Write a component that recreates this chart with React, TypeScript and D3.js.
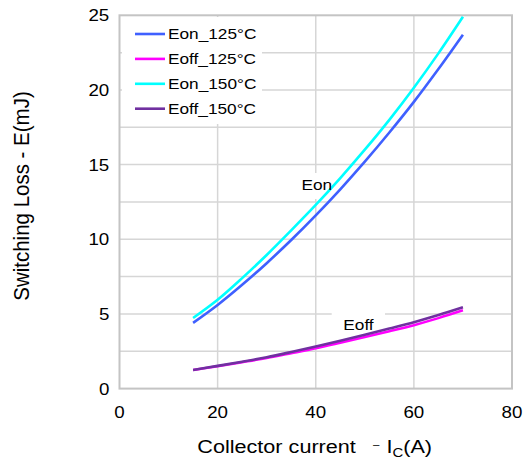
import React from "react";
import * as d3 from "d3";

const currents = [15, 20, 25, 30, 35, 40, 45, 50, 55, 60, 65, 70];
const eon125 = [4.4, 5.6, 6.95, 8.4, 9.95, 11.6, 13.35, 15.2, 17.15, 19.2, 21.4, 23.7];
const eoff125 = [1.25, 1.5, 1.77, 2.05, 2.37, 2.7, 3.07, 3.45, 3.84, 4.25, 4.72, 5.24];
const eon150 = [4.73, 5.95, 7.4, 8.95, 10.6, 12.3, 14.1, 16.0, 18.0, 20.15, 22.45, 24.9];
const eoff150 = [1.25, 1.52, 1.8, 2.1, 2.45, 2.82, 3.2, 3.6, 4.02, 4.45, 4.93, 5.45];

const seriesNames = ["Eon_125°C", "Eoff_125°C", "Eon_150°C", "Eoff_150°C"];
const seriesValues = [eon125, eoff125, eon150, eoff150];
const seriesColors = ["#3f60ff", "#ff00ff", "#00ffff", "#7030a0"];

const xTicks = [0, 20, 40, 60, 80];
const yTicks = [0, 5, 10, 15, 20, 25];
const yGrid = [2.5, 5, 7.5, 10, 12.5, 15, 17.5, 20, 22.5];
const xGrid = [20, 40, 60];

const W = 528;
const H = 461;
const SX = 1.15;
const FONT = "Liberation Sans, Arial, sans-serif";

function T({ x, y, size, anchor = "start", children }: any) {
  return (
    <text
      transform={`translate(${x},${y}) scale(${SX},1)`}
      fontSize={size}
      fontFamily={FONT}
      textAnchor={anchor}
      fill="#000"
    >
      {children}
    </text>
  );
}

export default function App() {
  const x = d3.scaleLinear().domain([0, 80]).range([119.5, 512]);
  const y = d3.scaleLinear().domain([0, 25]).range([388.6, 15.3]);
  const line = d3
    .line<number>()
    .x((_, i) => x(currents[i]))
    .y((v) => y(v))
    .curve(d3.curveCatmullRom);

  return (
    <svg
      width={W}
      height={H}
      style={{ position: "absolute", left: 0, top: 0, background: "#fff" }}
    >
      <rect x={0} y={0} width={W} height={H} fill="#fff" />
      {/* grid */}
      {yGrid.map((v) => (
        <line key={"gy" + v} x1={x(0)} x2={x(80)} y1={y(v)} y2={y(v)} stroke="#d6d6d6" strokeWidth={1.5} />
      ))}
      {xGrid.map((v) => (
        <line key={"gx" + v} x1={x(v)} x2={x(v)} y1={y(0)} y2={y(25)} stroke="#d6d6d6" strokeWidth={1.5} />
      ))}
      <rect x={x(0)} y={y(25)} width={x(80) - x(0)} height={y(0) - y(25)} fill="none" stroke="#c4c4c4" strokeWidth={2} />

      {/* legend background */}
      <rect x={122} y={17} width={140} height={107} fill="#fff" />
      {/* label backgrounds */}
      <rect x={298} y={173} width={38} height={26} fill="#fff" />
      <rect x={331.7} y={311} width={53.3} height={20} fill="#fff" />

      {/* series lines */}
      {seriesValues.map((vals, i) => (
        <path key={seriesNames[i]} d={line(vals) || ""} fill="none" stroke={seriesColors[i]} strokeWidth={2.6} />
      ))}

      {/* labels */}
      <T x={301.5} y={190.3} size={15}>Eon</T>
      <T x={343.3} y={330} size={15}>Eoff</T>

      {/* legend */}
      {seriesNames.map((n, i) => {
        const cy = 34 + i * 24.9;
        return (
          <g key={"lg" + n}>
            <line x1={135} x2={165} y1={cy} y2={cy} stroke={seriesColors[i]} strokeWidth={2.6} />
            <T x={168} y={cy + 5.4} size={15}>{n}</T>
          </g>
        );
      })}

      {/* y ticks */}
      {yTicks.map((v) => (
        <T key={"yt" + v} x={109.3} y={y(v) + 5.9} size={16.3} anchor="end">{String(v)}</T>
      ))}
      {/* x ticks */}
      {xTicks.map((v) => (
        <T key={"xt" + v} x={x(v)} y={418.3} size={16.3} anchor="middle">{String(v)}</T>
      ))}

      {/* x title */}
      <text
        transform={`translate(197.3,453.3) scale(${SX},1)`}
        fontSize={18.8}
        fontFamily={FONT}
        fill="#000"
      >
        Collector current
        <tspan dx={15} dy={-5} fontSize={10}>–</tspan>
        <tspan dx={6} dy={5} fontSize={18.8}>I</tspan>
        <tspan dy={4} fontSize={13}>C</tspan>
        <tspan dy={-4} fontSize={18.8}>(A)</tspan>
      </text>

      {/* y title */}
      <text
        transform={`translate(29,196) rotate(-90) scale(1,1.05)`}
        fontSize={20.5}
        fontFamily={FONT}
        textAnchor="middle"
        fill="#000"
      >
        Switching Loss - E(mJ)
      </text>
    </svg>
  );
}
